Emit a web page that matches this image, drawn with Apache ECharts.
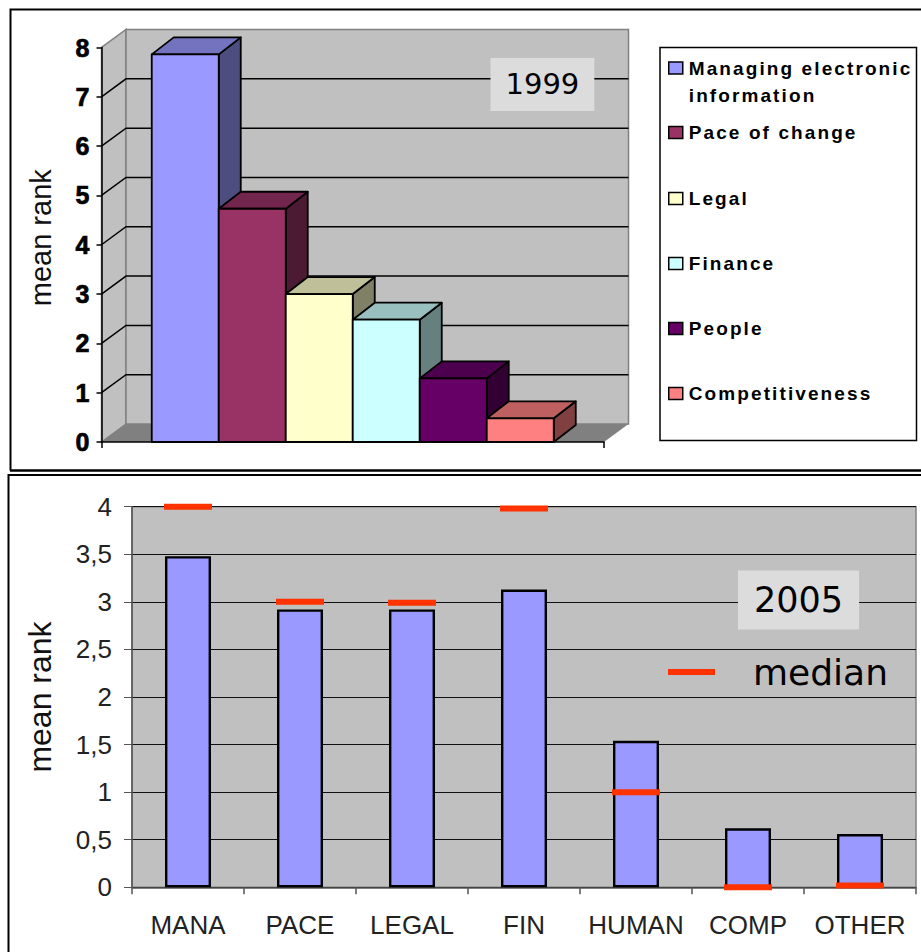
<!DOCTYPE html>
<html><head><meta charset="utf-8">
<style>
html,body{margin:0;padding:0;background:#fff}
#c{width:921px;height:952px}
svg text[style*="bold"],svg text[font-weight="bold"]{letter-spacing:2.1px}
</style>
<script src="https://cdn.jsdelivr.net/npm/echarts@6/dist/echarts.min.js"></script>
</head><body><div id="c"></div>
<script>
const names1999 = ['Managing electronic\ninformation','Pace of change','Legal','Finance','People','Competitiveness'];
const values1999 = [7.86,4.73,3.0,2.48,1.29,0.48];
const ticks1999 = [0,1,2,3,4,5,6,7,8];
const colors1999 = ['#9999ff','#993366','#ffffcc','#ccffff','#660066','#ff8080'];
const legendTops = [54.5,119,185,250,315,380];

const categories2005 = ['MANA','PACE','LEGAL','FIN','HUMAN','COMP','OTHER'];
const means2005 = [3.48,2.92,2.92,3.13,1.54,0.62,0.56];
const medians2005 = [4,3,2.99,3.98,1,0,0.02];

const shade = (hex,f)=>{const n=parseInt(hex.slice(1),16);
  return 'rgb('+[n>>16,(n>>8)&255,n&255].map(v=>Math.round(v*f)).join(',')+')';};

// wall, floor and gridlines of the 3D frame
function wallItem(params,api){
  const v=api.value(0), wdx=24.5, wdy=18;
  const [x0,y]=api.coord([-1.25,v]);
  const [x1]=api.coord([6.25,v]);
  const [,yTop]=api.coord([0,8]);
  const [,yBase]=api.coord([0,0]);
  const ch=[];
  if(v===0){
    ch.push({type:'polygon',shape:{points:[[x0,yBase],[x0+wdx,yBase-wdy],[x0+wdx,yTop-wdy],[x0,yTop]]},style:{fill:'#c0c0c0',stroke:'#808080',lineWidth:1.5}});
    ch.push({type:'rect',shape:{x:x0+wdx,y:yTop-wdy,width:x1-x0,height:yBase-yTop},style:{fill:'#c0c0c0',stroke:'#808080',lineWidth:1.5}});
    ch.push({type:'polygon',shape:{points:[[x0,yBase],[x1,yBase],[x1+wdx,yBase-wdy],[x0+wdx,yBase-wdy]]},style:{fill:'#808080'}});
  } else if(v<8){
    ch.push({type:'polyline',shape:{points:[[x0,y],[x0+wdx,y-wdy],[x1+wdx,y-wdy]]},style:{fill:'none',stroke:'#000',lineWidth:1.5}});
  }
  return {type:'group',children:ch};
}
// one 3D bar
function barItem(params,api){
  const i=api.value(0), v=api.value(1), dx=22, dy=17;
  const [xl,yt]=api.coord([i-0.5,v]);
  const [xr,yb]=api.coord([i+0.5,0]);
  const c=colors1999[params.seriesIndex-1];
  const s={stroke:'#000',lineWidth:1.8,lineJoin:'round'};
  return {type:'group',children:[
    {type:'polygon',shape:{points:[[xr,yt],[xr+dx,yt-dy],[xr+dx,yb-dy],[xr,yb]]},style:{...s,fill:shade(c,0.5)}},
    {type:'polygon',shape:{points:[[xl,yt],[xr,yt],[xr+dx,yt-dy],[xl+dx,yt-dy]]},style:{...s,fill:shade(c,0.75)}},
    {type:'rect',shape:{x:xl,y:yt,width:xr-xl,height:yb-yt},style:{...s,fill:c}}
  ]};
}

const series = [
 {type:'custom',name:'frame',xAxisIndex:0,yAxisIndex:0,renderItem:wallItem,data:ticks1999.map(t=>[t]),encode:{y:0},clip:false,silent:true,z:1}
];
names1999.forEach((n,i)=>series.push({
  type:'custom',name:n,xAxisIndex:0,yAxisIndex:0,renderItem:barItem,clip:false,
  data:[[i,values1999[i]]],encode:{x:0,y:1},itemStyle:{color:colors1999[i]},z:2+i
}));
series.push({type:'bar',name:'mean rank',xAxisIndex:1,yAxisIndex:1,data:means2005,barWidth:46,
  itemStyle:{color:'#9999ff',borderColor:'#000',borderWidth:2.4},z:2});
series.push({type:'scatter',name:'median',xAxisIndex:1,yAxisIndex:1,data:medians2005,symbol:'rect',symbolSize:[48,6],
  itemStyle:{color:'#ff3300',opacity:1},clip:false,z:5});

const legends = names1999.map((n,i)=>({
  data:[n],left:668,top:legendTops[i],orient:'vertical',padding:0,
  itemWidth:14,itemHeight:i===0?39:12,
  // the two-line first entry keeps its swatch level with its first line
  icon:i===0?'path://M0 0H14V12H0Z M0 39h0':'rect',
  selectedMode:false,z:12,
  itemStyle:{borderColor:'#000',borderWidth:1.5},
  textStyle:{fontFamily:'Liberation Sans',fontWeight:'bold',fontSize:19,color:'#000',lineHeight:27,padding:[0,0,0,1]}
}));
legends.push({data:['median'],left:668,top:654,padding:0,itemWidth:47,itemHeight:6,icon:'rect',selectedMode:false,z:12,
  itemStyle:{color:'#ff3300',borderWidth:0},
  textStyle:{fontFamily:'DejaVu Sans',fontSize:36,color:'#000',padding:[0,0,0,33]}});

const option = {
  animation:false,
  backgroundColor:'#fff',
  title:[
    {text:'1999',left:490.5,top:58,padding:[10,15,11,15],backgroundColor:'#dcdcdc',
     textStyle:{fontFamily:'DejaVu Sans',fontWeight:'normal',fontSize:29,color:'#000',lineHeight:32},z:10},
    {text:'2005',left:738,top:570.5,padding:[10,16,10,16],backgroundColor:'#dcdcdc',
     textStyle:{fontFamily:'DejaVu Sans',fontWeight:'normal',fontSize:35,color:'#000',lineHeight:39},z:10}
  ],
  legend:legends,
  grid:[
    {left:101.5,width:502.5,top:47.5,height:394.5,containLabel:false},
    {left:132,width:784,top:506.7,height:380.6,show:true,backgroundColor:'#c0c0c0',borderColor:'#808080',borderWidth:1.5,containLabel:false}
  ],
  xAxis:[
    {type:'value',gridIndex:0,min:-1.25,max:6.25,splitLine:{show:false},axisLabel:{show:false},
     axisLine:{show:true,onZero:false,lineStyle:{color:'#000',width:1.5}},
     axisTick:{show:true,length:6,customValues:[-1.25,6.25],lineStyle:{color:'#000',width:1.5}},z:8},
    {type:'category',gridIndex:1,data:categories2005,
     axisLine:{show:true,lineStyle:{color:'#555',width:1.5}},
     axisTick:{show:true,length:7,alignWithLabel:false,lineStyle:{color:'#555',width:1.5}},
     axisLabel:{fontFamily:'Liberation Sans',fontSize:26,color:'#222',margin:25,interval:0}}
  ],
  yAxis:[
    {type:'value',gridIndex:0,min:0,max:8,interval:1,splitLine:{show:false},
     name:'mean rank',nameLocation:'middle',nameGap:46,nameRotate:90,
     nameTextStyle:{fontFamily:'Liberation Sans',fontSize:29,color:'#111',padding:[0,0,0,14]},
     axisLine:{show:true,onZero:false,lineStyle:{color:'#000',width:1.5}},
     axisTick:{show:true,length:5,lineStyle:{color:'#000',width:1.5}},
     axisLabel:{fontFamily:'Liberation Sans',fontWeight:'bold',fontSize:25,color:'#000',margin:10,
       textBorderColor:'#000',textBorderWidth:0.7},z:8},
    {type:'value',gridIndex:1,min:0,max:4,interval:0.5,
     splitLine:{show:true,lineStyle:{color:'#111',width:1}},
     name:'mean rank',nameLocation:'middle',nameGap:76,nameRotate:90,
     nameTextStyle:{fontFamily:'Liberation Sans',fontSize:32,color:'#111'},
     axisLine:{show:true,lineStyle:{color:'#555',width:1.5}},
     axisTick:{show:true,length:8,lineStyle:{color:'#555',width:1}},
     axisLabel:{fontFamily:'Liberation Sans',fontSize:26,color:'#222',margin:20,
       formatter:v=>String(v).replace('.',',')}}
  ],
  graphic:[
    {type:'rect',z:-1,silent:true,shape:{x:660,y:47.5,width:256.5,height:393},style:{fill:'#fff',stroke:'#000',lineWidth:1.5}},
    {type:'polyline',silent:true,shape:{points:[[10.5,470.5],[10.5,9.5],[921,9.5]]},style:{fill:'none',stroke:'#000',lineWidth:2}},
    {type:'line',silent:true,shape:{x1:10,y1:470.5,x2:921,y2:470.5},style:{stroke:'#000',lineWidth:2.5}},
    {type:'polyline',silent:true,shape:{points:[[8.5,952],[8.5,475],[921,475]]},style:{fill:'none',stroke:'#000',lineWidth:2}}
  ],
  series
};
const chart = echarts.init(document.getElementById('c'),null,{renderer:'svg',width:921,height:952});
chart.setOption(option);
</script></body></html>
